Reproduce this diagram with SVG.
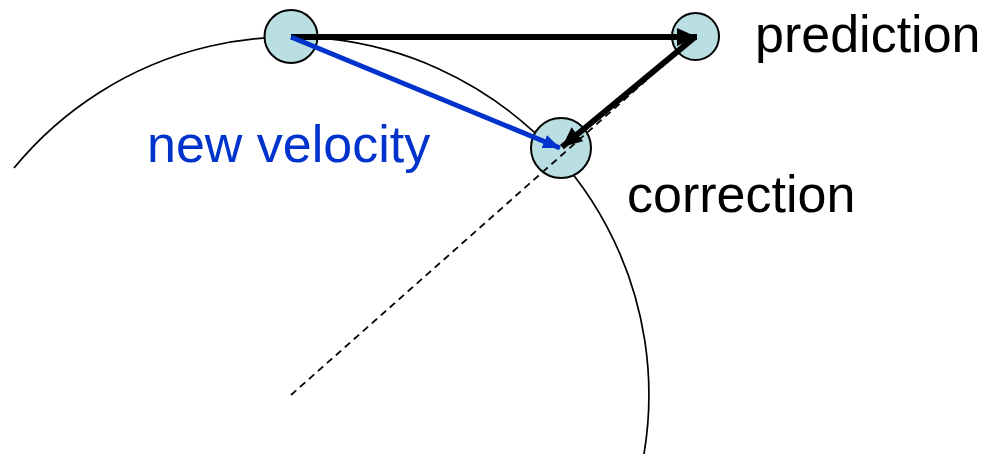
<svg xmlns="http://www.w3.org/2000/svg" width="990" height="454" viewBox="0 0 990 454">
<style>
.node{fill:#b9dfe2;stroke:#000;stroke-width:2}
.lbl{font-family:"Liberation Sans",Arial,sans-serif;font-size:52px;fill:#000}
</style>
<defs>
<marker id="ahK" markerUnits="userSpaceOnUse" markerWidth="24" markerHeight="20" refX="20" refY="9" orient="auto">
<path d="M0,0 L20,9 L0,18 Z" fill="#000"/>
</marker>
<marker id="ahB" markerUnits="userSpaceOnUse" markerWidth="20" markerHeight="16" refX="17" refY="7" orient="auto">
<path d="M0,0 L17,7 L0,14 Z" fill="#0033cc"/>
</marker>
</defs>
<rect width="990" height="454" fill="#fff"/>
<g id="orbit">
<path d="M14,168 A358,358 0 0 1 644,454 L644.5,460" fill="none" stroke="#000" stroke-width="1.7"/>
</g>
<g id="n-start"><circle class="node" cx="291" cy="36.5" r="26.5"/></g>
<g id="n-prediction"><circle class="node" cx="695.5" cy="36.5" r="23.5"/></g>
<g id="n-correction"><circle class="node" cx="561" cy="148" r="30"/></g>
<g id="connectors">
<line x1="291" y1="395" x2="695" y2="37" stroke="#000" stroke-width="1.8" stroke-dasharray="7,5"/>
<line x1="291" y1="37" x2="697" y2="37" stroke="#000" stroke-width="6" marker-end="url(#ahK)"/>
<line x1="291" y1="37" x2="560" y2="148" stroke="#0033cc" stroke-width="5" marker-end="url(#ahB)"/>
<line x1="695" y1="37" x2="562" y2="147" stroke="#000" stroke-width="6" marker-end="url(#ahK)"/>
</g>
<g id="labels">
<text class="lbl" x="755" y="52">prediction</text>
<text class="lbl" x="627" y="212">correction</text>
<text class="lbl" x="147" y="162" style="fill:#0033cc">new velocity</text>
</g>
</svg>
